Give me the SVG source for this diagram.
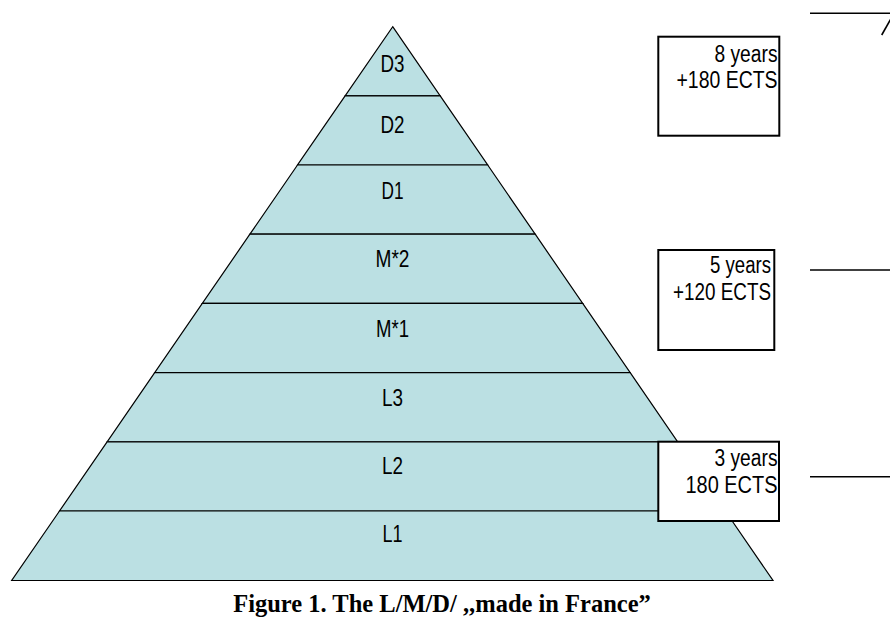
<svg xmlns="http://www.w3.org/2000/svg" width="890" height="630" viewBox="0 0 890 630">
<style>
.band{fill:#BBE0E3;stroke:#000;stroke-width:1.2;stroke-linejoin:miter}
.lbl{font-family:"Liberation Sans Narrow","Arial Narrow","Liberation Sans",Arial,sans-serif;font-size:23px;fill:#000;text-anchor:middle}
.box{fill:#fff;stroke:#000;stroke-width:2}
.bt{font-family:"Liberation Sans Narrow","Arial Narrow","Liberation Sans",Arial,sans-serif;font-size:23px;fill:#000;text-anchor:end}
.ln{stroke:#000;stroke-width:1.6;fill:none}
.cap{font-family:"Liberation Serif","Times New Roman",serif;font-weight:bold;font-size:24.5px;fill:#000;text-anchor:middle}
</style>
<rect width="890" height="630" fill="#fff"/>
<g id="pyramid">
<g id="D3"><polygon class="band" points="392.7,26.7 440.2,95.9 345.1,95.9"/><text class="lbl" x="392.5" y="71.7" textLength="24" lengthAdjust="spacingAndGlyphs">D3</text></g>
<g id="D2"><polygon class="band" points="345.1,95.9 440.2,95.9 487.7,165 297.5,165"/><text class="lbl" x="392.5" y="133.3" textLength="24" lengthAdjust="spacingAndGlyphs">D2</text></g>
<g id="D1"><polygon class="band" points="297.5,165 487.7,165 535.2,234.2 249.9,234.2"/><text class="lbl" x="392.5" y="199.3" textLength="22" lengthAdjust="spacingAndGlyphs">D1</text></g>
<g id="M2"><polygon class="band" points="249.9,234.2 535.2,234.2 582.7,303.4 202.3,303.4"/><text class="lbl" x="392.5" y="266.7" textLength="34" lengthAdjust="spacingAndGlyphs">M*2</text></g>
<g id="M1"><polygon class="band" points="202.3,303.4 582.7,303.4 630.2,372.6 154.7,372.6"/><text class="lbl" x="392.5" y="336.5" textLength="33" lengthAdjust="spacingAndGlyphs">M*1</text></g>
<g id="L3"><polygon class="band" points="154.7,372.6 630.2,372.6 677.7,441.8 107.1,441.8"/><text class="lbl" x="392.5" y="406" textLength="21" lengthAdjust="spacingAndGlyphs">L3</text></g>
<g id="L2"><polygon class="band" points="107.1,441.8 677.7,441.8 725.3,511 59.5,511"/><text class="lbl" x="392.5" y="474.3" textLength="21" lengthAdjust="spacingAndGlyphs">L2</text></g>
<g id="L1"><polygon class="band" points="59.5,511 725.3,511 773,580.5 11.7,580.5"/><text class="lbl" x="392.5" y="542.3" textLength="20" lengthAdjust="spacingAndGlyphs">L1</text></g>
</g>
<g id="box8">
<rect class="box" x="658.3" y="36.7" width="121" height="99"/>
<text class="bt" x="777.5" y="61.5" textLength="63" lengthAdjust="spacingAndGlyphs">8 years</text>
<text class="bt" x="777.5" y="87.7" textLength="101" lengthAdjust="spacingAndGlyphs">+180 ECTS</text>
</g>
<g id="box5">
<rect class="box" x="658.3" y="250" width="116" height="100"/>
<text class="bt" x="771" y="273.3" textLength="61" lengthAdjust="spacingAndGlyphs">5 years</text>
<text class="bt" x="771" y="300.3" textLength="98" lengthAdjust="spacingAndGlyphs">+120 ECTS</text>
</g>
<g id="box3">
<rect class="box" x="658.3" y="441.7" width="120.7" height="79.3"/>
<text class="bt" x="777.5" y="465.5" textLength="63" lengthAdjust="spacingAndGlyphs">3 years</text>
<text class="bt" x="777.5" y="493.3" textLength="92" lengthAdjust="spacingAndGlyphs">180 ECTS</text>
</g>
<g id="connectors">
<line class="ln" x1="810" y1="13.3" x2="890" y2="13.3"/>
<line class="ln" x1="881.7" y1="35" x2="891" y2="18.5"/>
<line class="ln" x1="810" y1="270" x2="890" y2="270"/>
<line class="ln" x1="810" y1="476.7" x2="890" y2="476.7"/>
</g>
<text class="cap" x="442" y="612">Figure 1. The L/M/D/ ,,made in France”</text>
</svg>
